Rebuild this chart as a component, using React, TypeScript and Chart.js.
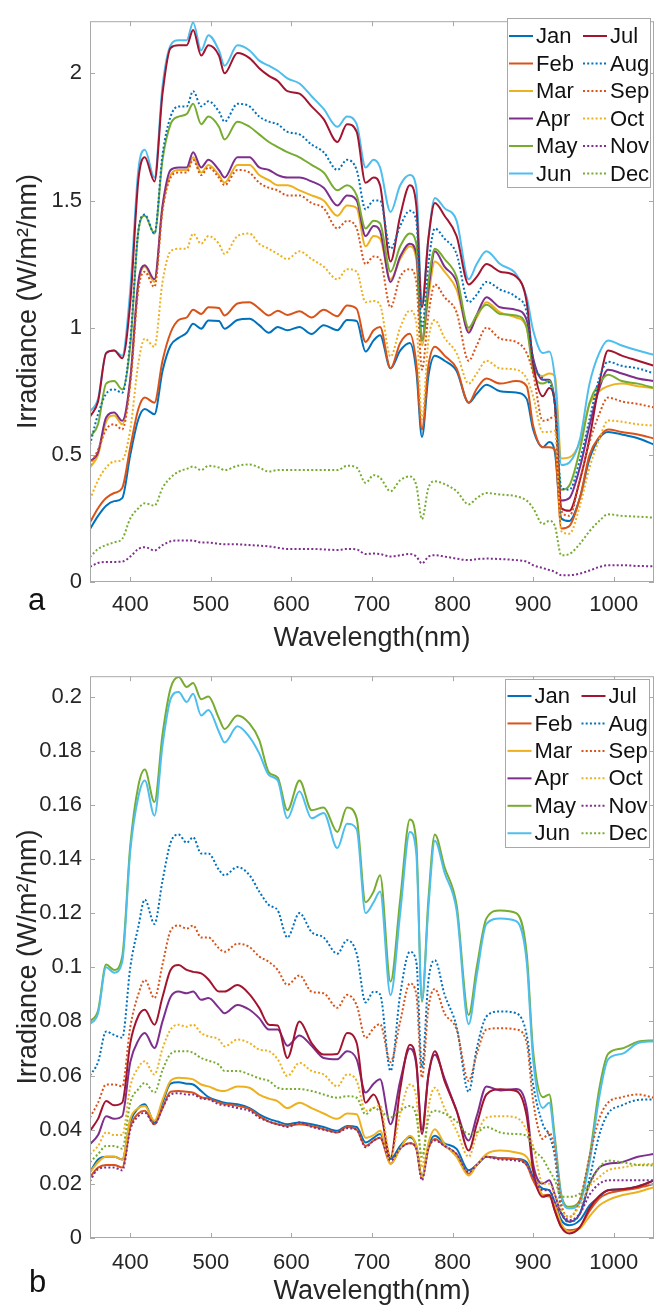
import React, { useEffect, useRef } from "react";
import { Chart, registerables } from "chart.js";

Chart.register(...registerables);

// ---------- data ----------
const WAVELENGTHS = [
  350, 360, 370, 380, 390, 400, 410, 418, 430, 440,
  450, 460, 470, 478, 488, 497, 510, 517, 533, 548,
  560, 572, 583, 595, 610, 625, 640, 657, 669, 681,
  692, 702, 710, 723, 735, 747, 755, 762, 770, 778,
  790, 805, 820, 830, 842, 859, 879, 892, 900, 912,
  920, 927, 935, 945, 958, 970, 982, 993, 1010, 1030,
  1050,
];

const MONTHS = ["Jan", "Feb", "Mar", "Apr", "May", "Jun", "Jul", "Aug", "Sep", "Oct", "Nov", "Dec"];

const X_TICKS = [400, 500, 600, 700, 800, 900, 1000];
const Y_TICKS_A = [0, 0.5, 1, 1.5, 2];
const Y_TICKS_B = [0, 0.02, 0.04, 0.06, 0.08, 0.1, 0.12, 0.14, 0.16, 0.18, 0.2];

// panel a
const aJan = [0.208, 0.26, 0.30, 0.318, 0.33, 0.50, 0.64, 0.68, 0.66, 0.83, 0.93, 0.96, 0.98, 1.015, 0.996, 1.028, 1.026, 0.996, 1.03, 1.035, 1.01, 0.98, 1.003, 0.99, 1.003, 0.975, 1.01, 0.99, 1.03, 1.026, 0.906, 0.95, 0.97, 0.84, 0.91, 0.94, 0.83, 0.57, 0.81, 0.89, 0.87, 0.83, 0.705, 0.74, 0.776, 0.75, 0.745, 0.72, 0.60, 0.53, 0.55, 0.51, 0.25, 0.24, 0.33, 0.485, 0.565, 0.59, 0.58, 0.565, 0.54];
const aFeb = [0.234, 0.29, 0.33, 0.35, 0.37, 0.53, 0.68, 0.725, 0.705, 0.87, 0.98, 1.03, 1.04, 1.07, 1.054, 1.08, 1.077, 1.048, 1.095, 1.10, 1.075, 1.048, 1.067, 1.05, 1.065, 1.04, 1.07, 1.045, 1.087, 1.074, 0.944, 0.99, 1.003, 0.84, 0.94, 0.976, 0.86, 0.60, 0.85, 0.925, 0.89, 0.84, 0.705, 0.76, 0.80, 0.78, 0.79, 0.77, 0.615, 0.53, 0.53, 0.52, 0.21, 0.22, 0.33, 0.50, 0.57, 0.60, 0.59, 0.58, 0.564];
const aMar = [0.45, 0.50, 0.63, 0.655, 0.62, 0.79, 1.17, 1.24, 1.18, 1.47, 1.60, 1.62, 1.62, 1.67, 1.61, 1.64, 1.60, 1.57, 1.64, 1.64, 1.60, 1.58, 1.56, 1.56, 1.54, 1.52, 1.50, 1.44, 1.48, 1.47, 1.32, 1.36, 1.35, 1.19, 1.27, 1.32, 1.27, 0.93, 1.12, 1.26, 1.22, 1.15, 0.99, 1.04, 1.10, 1.06, 1.04, 1.00, 0.85, 0.81, 0.82, 0.81, 0.486, 0.49, 0.55, 0.70, 0.75, 0.77, 0.78, 0.77, 0.763];
const aApr = [0.474, 0.51, 0.647, 0.666, 0.634, 0.80, 1.18, 1.245, 1.19, 1.48, 1.62, 1.63, 1.63, 1.69, 1.63, 1.66, 1.62, 1.59, 1.67, 1.67, 1.63, 1.62, 1.60, 1.59, 1.59, 1.575, 1.55, 1.48, 1.52, 1.50, 1.36, 1.40, 1.38, 1.18, 1.28, 1.33, 1.29, 0.95, 1.15, 1.30, 1.24, 1.18, 0.98, 1.05, 1.12, 1.08, 1.07, 1.03, 0.88, 0.795, 0.795, 0.70, 0.32, 0.33, 0.45, 0.615, 0.76, 0.835, 0.82, 0.80, 0.79];
const aMay = [0.57, 0.62, 0.78, 0.79, 0.757, 0.93, 1.38, 1.44, 1.37, 1.66, 1.80, 1.83, 1.84, 1.88, 1.80, 1.83, 1.79, 1.74, 1.81, 1.79, 1.76, 1.73, 1.71, 1.69, 1.67, 1.64, 1.61, 1.54, 1.56, 1.52, 1.39, 1.42, 1.41, 1.22, 1.32, 1.37, 1.33, 0.95, 1.18, 1.31, 1.27, 1.20, 1.00, 1.05, 1.09, 1.054, 1.048, 1.00, 0.83, 0.78, 0.79, 0.70, 0.363, 0.38, 0.52, 0.705, 0.78, 0.815, 0.79, 0.78, 0.763];
const aJun = [0.67, 0.72, 0.90, 0.91, 0.89, 1.15, 1.62, 1.70, 1.59, 1.95, 2.11, 2.13, 2.13, 2.20, 2.09, 2.15, 2.09, 2.03, 2.11, 2.09, 2.05, 2.03, 2.01, 1.98, 1.96, 1.91, 1.86, 1.79, 1.83, 1.80, 1.63, 1.66, 1.63, 1.455, 1.56, 1.60, 1.55, 1.10, 1.35, 1.51, 1.47, 1.42, 1.19, 1.25, 1.30, 1.25, 1.21, 1.12, 0.99, 0.90, 0.906, 0.80, 0.46, 0.47, 0.56, 0.78, 0.90, 0.95, 0.93, 0.91, 0.893];
const aJul = [0.65, 0.71, 0.90, 0.91, 0.88, 1.10, 1.58, 1.67, 1.575, 1.92, 2.10, 2.11, 2.11, 2.17, 2.07, 2.11, 2.07, 2.00, 2.08, 2.06, 2.02, 1.99, 1.97, 1.93, 1.92, 1.87, 1.82, 1.73, 1.80, 1.77, 1.57, 1.59, 1.56, 1.26, 1.44, 1.56, 1.48, 1.08, 1.35, 1.49, 1.44, 1.36, 1.17, 1.20, 1.25, 1.22, 1.20, 1.10, 0.86, 0.73, 0.763, 0.70, 0.29, 0.28, 0.40, 0.565, 0.78, 0.91, 0.89, 0.87, 0.85];
const aAug = [0.54, 0.66, 0.74, 0.757, 0.744, 0.95, 1.38, 1.445, 1.37, 1.68, 1.83, 1.87, 1.87, 1.93, 1.87, 1.89, 1.85, 1.81, 1.88, 1.87, 1.83, 1.81, 1.80, 1.77, 1.76, 1.72, 1.69, 1.62, 1.66, 1.62, 1.465, 1.50, 1.50, 1.31, 1.40, 1.46, 1.42, 1.00, 1.25, 1.39, 1.35, 1.29, 1.10, 1.13, 1.18, 1.15, 1.12, 1.06, 0.874, 0.80, 0.783, 0.70, 0.37, 0.363, 0.48, 0.64, 0.80, 0.866, 0.85, 0.84, 0.82];
const aSep = [0.46, 0.52, 0.60, 0.62, 0.60, 0.78, 1.15, 1.22, 1.16, 1.46, 1.59, 1.61, 1.61, 1.66, 1.60, 1.63, 1.59, 1.56, 1.62, 1.61, 1.57, 1.55, 1.54, 1.52, 1.52, 1.49, 1.47, 1.39, 1.42, 1.39, 1.25, 1.28, 1.27, 1.08, 1.20, 1.23, 1.18, 0.835, 1.05, 1.17, 1.12, 1.06, 0.87, 0.93, 1.00, 0.957, 0.944, 0.90, 0.82, 0.634, 0.64, 0.654, 0.28, 0.26, 0.40, 0.55, 0.66, 0.725, 0.71, 0.70, 0.686];
const aOct = [0.325, 0.40, 0.45, 0.474, 0.48, 0.60, 0.86, 0.957, 0.925, 1.18, 1.30, 1.31, 1.31, 1.37, 1.33, 1.36, 1.33, 1.29, 1.36, 1.37, 1.33, 1.31, 1.29, 1.27, 1.30, 1.27, 1.24, 1.19, 1.23, 1.22, 1.10, 1.105, 1.09, 0.886, 1.00, 1.067, 1.02, 0.64, 0.95, 1.03, 0.96, 0.90, 0.78, 0.82, 0.87, 0.84, 0.835, 0.80, 0.73, 0.59, 0.59, 0.595, 0.20, 0.19, 0.30, 0.45, 0.56, 0.635, 0.63, 0.62, 0.615];
const aNov = [0.06, 0.075, 0.079, 0.079, 0.08, 0.10, 0.13, 0.137, 0.124, 0.145, 0.16, 0.163, 0.163, 0.163, 0.155, 0.155, 0.15, 0.148, 0.148, 0.145, 0.143, 0.14, 0.135, 0.13, 0.13, 0.13, 0.128, 0.126, 0.13, 0.128, 0.11, 0.112, 0.11, 0.10, 0.105, 0.11, 0.10, 0.073, 0.10, 0.105, 0.10, 0.092, 0.086, 0.09, 0.092, 0.09, 0.086, 0.08, 0.066, 0.055, 0.047, 0.04, 0.027, 0.027, 0.033, 0.045, 0.059, 0.066, 0.066, 0.063, 0.062];
const aDec = [0.098, 0.13, 0.145, 0.156, 0.17, 0.25, 0.29, 0.31, 0.30, 0.37, 0.41, 0.434, 0.445, 0.454, 0.44, 0.457, 0.45, 0.44, 0.457, 0.462, 0.45, 0.434, 0.44, 0.44, 0.44, 0.44, 0.44, 0.44, 0.457, 0.45, 0.39, 0.42, 0.41, 0.357, 0.40, 0.415, 0.38, 0.247, 0.37, 0.396, 0.385, 0.357, 0.305, 0.33, 0.35, 0.344, 0.337, 0.32, 0.29, 0.228, 0.24, 0.22, 0.105, 0.11, 0.15, 0.20, 0.24, 0.266, 0.26, 0.257, 0.253];

// panel b
const bJan = [0.0243, 0.029, 0.030, 0.030, 0.029, 0.043, 0.048, 0.0494, 0.0427, 0.050, 0.057, 0.0575, 0.057, 0.0567, 0.0543, 0.052, 0.0506, 0.050, 0.0494, 0.048, 0.0457, 0.044, 0.043, 0.042, 0.0427, 0.042, 0.041, 0.0396, 0.0414, 0.041, 0.0353, 0.037, 0.0384, 0.0292, 0.034, 0.0372, 0.034, 0.0225, 0.034, 0.0378, 0.035, 0.0329, 0.025, 0.027, 0.030, 0.0295, 0.0292, 0.028, 0.0225, 0.0182, 0.0176, 0.013, 0.0066, 0.0047, 0.0066, 0.012, 0.0152, 0.0176, 0.018, 0.019, 0.0213];
const bFeb = [0.0225, 0.026, 0.027, 0.027, 0.026, 0.041, 0.046, 0.047, 0.042, 0.048, 0.054, 0.0543, 0.054, 0.0537, 0.052, 0.0515, 0.050, 0.0495, 0.0488, 0.0476, 0.045, 0.043, 0.042, 0.0414, 0.042, 0.0414, 0.0402, 0.039, 0.041, 0.040, 0.034, 0.036, 0.037, 0.0274, 0.033, 0.035, 0.033, 0.022, 0.033, 0.0366, 0.034, 0.031, 0.0237, 0.027, 0.030, 0.0295, 0.0292, 0.027, 0.0213, 0.0158, 0.016, 0.010, 0.0041, 0.0029, 0.004, 0.010, 0.0146, 0.0165, 0.0175, 0.0185, 0.020];
const bMar = [0.0243, 0.028, 0.030, 0.030, 0.029, 0.044, 0.048, 0.0488, 0.0433, 0.051, 0.058, 0.0592, 0.059, 0.0586, 0.0567, 0.056, 0.0545, 0.0543, 0.056, 0.0555, 0.053, 0.0515, 0.0505, 0.048, 0.050, 0.048, 0.046, 0.044, 0.046, 0.0457, 0.037, 0.038, 0.0396, 0.0274, 0.033, 0.0378, 0.034, 0.0225, 0.035, 0.0402, 0.0347, 0.030, 0.0231, 0.027, 0.031, 0.0323, 0.0316, 0.030, 0.025, 0.0158, 0.0152, 0.012, 0.0053, 0.0023, 0.0035, 0.008, 0.012, 0.014, 0.0158, 0.017, 0.0188];
const bApr = [0.0347, 0.038, 0.045, 0.044, 0.045, 0.065, 0.073, 0.0757, 0.0702, 0.080, 0.089, 0.091, 0.0904, 0.091, 0.088, 0.0886, 0.085, 0.083, 0.0861, 0.0843, 0.0812, 0.077, 0.077, 0.071, 0.0748, 0.071, 0.0665, 0.066, 0.069, 0.066, 0.0537, 0.057, 0.0586, 0.042, 0.058, 0.070, 0.064, 0.040, 0.060, 0.0677, 0.059, 0.047, 0.036, 0.045, 0.056, 0.0545, 0.055, 0.048, 0.0274, 0.0201, 0.0213, 0.016, 0.009, 0.006, 0.009, 0.020, 0.026, 0.0274, 0.028, 0.030, 0.031];
const bMay = [0.080, 0.084, 0.101, 0.099, 0.104, 0.145, 0.167, 0.173, 0.161, 0.186, 0.203, 0.2072, 0.2035, 0.205, 0.199, 0.200, 0.192, 0.188, 0.193, 0.190, 0.184, 0.172, 0.170, 0.158, 0.169, 0.158, 0.159, 0.150, 0.159, 0.155, 0.124, 0.128, 0.134, 0.0947, 0.125, 0.1546, 0.146, 0.0873, 0.125, 0.149, 0.137, 0.123, 0.0824, 0.100, 0.118, 0.121, 0.120, 0.105, 0.069, 0.052, 0.053, 0.037, 0.016, 0.0115, 0.014, 0.030, 0.055, 0.068, 0.070, 0.0725, 0.073];
const bJun = [0.079, 0.083, 0.100, 0.098, 0.102, 0.143, 0.163, 0.169, 0.156, 0.182, 0.199, 0.2017, 0.198, 0.201, 0.193, 0.195, 0.187, 0.183, 0.189, 0.185, 0.179, 0.171, 0.169, 0.155, 0.165, 0.155, 0.157, 0.144, 0.153, 0.151, 0.120, 0.124, 0.128, 0.0897, 0.120, 0.150, 0.142, 0.088, 0.122, 0.1467, 0.135, 0.121, 0.079, 0.097, 0.116, 0.118, 0.117, 0.102, 0.066, 0.048, 0.050, 0.035, 0.015, 0.0109, 0.013, 0.028, 0.052, 0.066, 0.068, 0.072, 0.0727];
const bJul = [0.0396, 0.044, 0.0506, 0.049, 0.050, 0.072, 0.082, 0.0843, 0.0788, 0.089, 0.099, 0.1008, 0.099, 0.0983, 0.0977, 0.0955, 0.091, 0.091, 0.0934, 0.090, 0.085, 0.0788, 0.0785, 0.0665, 0.080, 0.072, 0.0678, 0.068, 0.0757, 0.072, 0.050, 0.053, 0.048, 0.0298, 0.055, 0.0714, 0.065, 0.0384, 0.060, 0.069, 0.058, 0.047, 0.0323, 0.042, 0.053, 0.0549, 0.0543, 0.045, 0.025, 0.0152, 0.0158, 0.010, 0.004, 0.0017, 0.004, 0.011, 0.0155, 0.0176, 0.018, 0.019, 0.0213];
const bAug = [0.060, 0.065, 0.0763, 0.075, 0.074, 0.100, 0.115, 0.125, 0.116, 0.132, 0.146, 0.149, 0.146, 0.148, 0.142, 0.142, 0.136, 0.134, 0.137, 0.134, 0.128, 0.123, 0.121, 0.111, 0.120, 0.113, 0.111, 0.105, 0.110, 0.105, 0.087, 0.091, 0.090, 0.0617, 0.090, 0.1057, 0.102, 0.063, 0.095, 0.1026, 0.090, 0.078, 0.054, 0.070, 0.0818, 0.0837, 0.083, 0.075, 0.0567, 0.042, 0.038, 0.030, 0.010, 0.006, 0.009, 0.022, 0.038, 0.046, 0.049, 0.051, 0.0512];
const bSep = [0.0445, 0.050, 0.0567, 0.0567, 0.056, 0.078, 0.090, 0.0953, 0.0886, 0.101, 0.1135, 0.1154, 0.1143, 0.1154, 0.111, 0.111, 0.107, 0.1057, 0.1087, 0.1075, 0.104, 0.102, 0.099, 0.0935, 0.097, 0.091, 0.0904, 0.085, 0.0898, 0.086, 0.0739, 0.0775, 0.079, 0.065, 0.080, 0.094, 0.090, 0.0592, 0.085, 0.092, 0.083, 0.077, 0.058, 0.068, 0.077, 0.0775, 0.077, 0.072, 0.0506, 0.0366, 0.039, 0.032, 0.0127, 0.0078, 0.014, 0.030, 0.044, 0.050, 0.052, 0.053, 0.0518];
const bOct = [0.031, 0.034, 0.039, 0.038, 0.038, 0.056, 0.063, 0.0653, 0.0604, 0.070, 0.077, 0.0788, 0.078, 0.0788, 0.0757, 0.0745, 0.0733, 0.0708, 0.0733, 0.072, 0.0696, 0.069, 0.066, 0.0598, 0.0647, 0.0617, 0.0604, 0.056, 0.0604, 0.058, 0.047, 0.048, 0.049, 0.030, 0.046, 0.0567, 0.052, 0.026, 0.048, 0.0555, 0.048, 0.0396, 0.030, 0.038, 0.0445, 0.045, 0.0445, 0.040, 0.034, 0.0201, 0.020, 0.016, 0.0103, 0.0078, 0.012, 0.019, 0.0225, 0.025, 0.026, 0.027, 0.0274];
const bNov = [0.021, 0.0255, 0.026, 0.026, 0.025, 0.040, 0.045, 0.0463, 0.042, 0.048, 0.053, 0.0535, 0.053, 0.053, 0.0515, 0.0512, 0.0494, 0.049, 0.048, 0.047, 0.0445, 0.043, 0.042, 0.041, 0.0427, 0.041, 0.040, 0.039, 0.0405, 0.040, 0.0335, 0.036, 0.037, 0.0286, 0.033, 0.035, 0.033, 0.0213, 0.033, 0.036, 0.034, 0.031, 0.0243, 0.027, 0.030, 0.029, 0.0286, 0.027, 0.0225, 0.0176, 0.0176, 0.013, 0.009, 0.0066, 0.009, 0.016, 0.020, 0.0213, 0.0213, 0.0213, 0.0213];
const bDec = [0.028, 0.031, 0.034, 0.034, 0.033, 0.050, 0.055, 0.0573, 0.0537, 0.062, 0.068, 0.069, 0.069, 0.0684, 0.0665, 0.0655, 0.064, 0.0617, 0.0617, 0.0604, 0.059, 0.058, 0.0555, 0.055, 0.055, 0.0543, 0.053, 0.0518, 0.0524, 0.0518, 0.0457, 0.048, 0.047, 0.0445, 0.047, 0.0488, 0.045, 0.030, 0.044, 0.047, 0.046, 0.043, 0.0384, 0.039, 0.041, 0.039, 0.0384, 0.0378, 0.0329, 0.0292, 0.025, 0.0213, 0.0152, 0.0152, 0.0164, 0.0201, 0.026, 0.0286, 0.028, 0.027, 0.0268];

const SERIES_A = [aJan, aFeb, aMar, aApr, aMay, aJun, aJul, aAug, aSep, aOct, aNov, aDec];
const SERIES_B = [bJan, bFeb, bMar, bApr, bMay, bJun, bJul, bAug, bSep, bOct, bNov, bDec];

// ---------- styles ----------
const MONTH_COLORS = [
  "#0072BD", "#D95319", "#EDB120", "#7E2F8E", "#77AC30", "#4DBEEE",
  "#A2142F", "#0072BD", "#D95319", "#EDB120", "#7E2F8E", "#77AC30",
];
const DOTTED = [false, false, false, false, false, false, false, true, true, true, true, true];
const FONT = "'Liberation Sans', Arial, Helvetica, sans-serif";
const TEXT_COLOR = "#262626";
const AXIS_COLOR = "#a8a8a8";
const DOT_DASH = [2, 2.2];

const framePlugin = {
  id: "matlabFrame",
  afterDatasetsDraw(chart: any, _args: any, opts: any) {
    const { ctx, chartArea } = chart;
    const { left, right, top, bottom } = chartArea;
    const xs = chart.scales.x;
    const ys = chart.scales.y;
    ctx.save();
    ctx.strokeStyle = AXIS_COLOR;
    ctx.lineWidth = 1;
    ctx.setLineDash([]);
    ctx.strokeRect(left + 0.5, top + 0.5, right - left - 1, bottom - top - 1);
    const tl = 5;
    ctx.beginPath();
    xs.ticks.forEach((t: any) => {
      const px = Math.round(xs.getPixelForValue(t.value)) + 0.5;
      ctx.moveTo(px, bottom);
      ctx.lineTo(px, bottom - tl);
      ctx.moveTo(px, top);
      ctx.lineTo(px, top + tl);
    });
    ys.ticks.forEach((t: any) => {
      const py = Math.round(ys.getPixelForValue(t.value)) + 0.5;
      ctx.moveTo(left, py);
      ctx.lineTo(left + tl, py);
      ctx.moveTo(right, py);
      ctx.lineTo(right - tl, py);
    });
    ctx.stroke();

    const L = opts.legend;
    ctx.fillStyle = "#ffffff";
    ctx.fillRect(L.x0, L.y0, L.x1 - L.x0, L.y1 - L.y0);
    ctx.strokeStyle = AXIS_COLOR;
    ctx.lineWidth = 1;
    ctx.strokeRect(L.x0 + 0.5, L.y0 + 0.5, L.x1 - L.x0 - 1, L.y1 - L.y0 - 1);
    ctx.font = `22px ${FONT}`;
    ctx.textBaseline = "middle";
    ctx.textAlign = "left";
    chart.data.datasets.forEach((ds: any, i: number) => {
      const col = i < 6 ? 0 : 1;
      const row = i % 6;
      const y = L.row0 + row * L.rowStep;
      const sx = L.cols[col];
      ctx.strokeStyle = ds.borderColor;
      ctx.lineWidth = 2;
      ctx.setLineDash(ds.borderDash || []);
      ctx.beginPath();
      ctx.moveTo(sx, y);
      ctx.lineTo(sx + 24, y);
      ctx.stroke();
      ctx.setLineDash([]);
      ctx.fillStyle = "#111";
      ctx.fillText(ds.label, sx + 27, y + 1);
    });

    ctx.font = `31px ${FONT}`;
    ctx.fillStyle = "#111";
    ctx.textBaseline = "alphabetic";
    ctx.fillText(opts.letter, opts.letterX, opts.letterY);
    ctx.restore();
  },
};

type PanelCfg = {
  height: number;
  top: number;
  xAxisHeight: number;
  series: number[][];
  yMax: number;
  yTicks: number[];
  xTickPad: number;
  xTitlePad: number;
  legend: any;
  letter: string;
  letterX: number;
  letterY: number;
};

const fmt = (v: number) => String(Number(v.toFixed(3)));

function Panel({ cfg }: { cfg: PanelCfg }) {
  const ref = useRef<HTMLCanvasElement | null>(null);
  useEffect(() => {
    const canvas = ref.current;
    if (!canvas) return;
    const datasets = MONTHS.map((m, i) => ({
      label: m,
      data: WAVELENGTHS.map((x, j) => ({ x, y: cfg.series[i][j] })),
      borderColor: MONTH_COLORS[i],
      backgroundColor: MONTH_COLORS[i],
      borderWidth: 2,
      borderDash: DOTTED[i] ? DOT_DASH : [],
      pointRadius: 0,
      cubicInterpolationMode: "monotone" as const,
      fill: false,
      order: 11 - i,
    }));
    const chart = new Chart(canvas, {
      type: "line",
      data: { datasets },
      options: {
        responsive: false,
        animation: false,
        devicePixelRatio: 1,
        layout: { padding: { left: 0, right: 1, top: cfg.top, bottom: 0 } },
        plugins: {
          legend: { display: false },
          tooltip: { enabled: false },
          matlabFrame: {
            legend: cfg.legend,
            letter: cfg.letter,
            letterX: cfg.letterX,
            letterY: cfg.letterY,
          },
        } as any,
        scales: {
          x: {
            type: "linear",
            min: 350,
            max: 1050,
            afterBuildTicks: (s: any) => {
              s.ticks = X_TICKS.map((v) => ({ value: v }));
            },
            afterFit: (s: any) => {
              s.height = cfg.xAxisHeight;
            },
            grid: { display: false, drawTicks: false },
            border: { display: false },
            ticks: {
              font: { family: FONT, size: 22 },
              color: TEXT_COLOR,
              padding: cfg.xTickPad,
              maxRotation: 0,
              autoSkip: false,
              callback: (v: any) => String(v),
            },
            title: {
              display: true,
              text: "Wavelength(nm)",
              font: { family: FONT, size: 27 },
              color: TEXT_COLOR,
              padding: { top: 0, bottom: cfg.xTitlePad },
            },
          },
          y: {
            type: "linear",
            min: 0,
            max: cfg.yMax,
            afterBuildTicks: (s: any) => {
              s.ticks = cfg.yTicks.map((v) => ({ value: v }));
            },
            afterFit: (s: any) => {
              s.width = 90;
            },
            grid: { display: false, drawTicks: false },
            border: { display: false },
            ticks: {
              font: { family: FONT, size: 22 },
              color: TEXT_COLOR,
              padding: 8,
              autoSkip: false,
              callback: (v: any) => fmt(Number(v)),
            },
            title: {
              display: true,
              text: "Irradiance (W/m²/nm)",
              font: { family: FONT, size: 27 },
              color: TEXT_COLOR,
              padding: { top: 12, bottom: 0 },
            },
          },
        },
      },
      plugins: [framePlugin],
    });
    return () => chart.destroy();
  }, []);
  return (
    <canvas
      ref={ref}
      width={655}
      height={cfg.height}
      style={{ display: "block", width: 655, height: cfg.height }}
    />
  );
}

const PANEL_A: PanelCfg = {
  height: 655,
  top: 14,
  xAxisHeight: 73,
  series: SERIES_A,
  yMax: 2.205,
  yTicks: Y_TICKS_A,
  xTickPad: 10,
  xTitlePad: 0,
  legend: { x0: 507, y0: 18, x1: 651, y1: 188, row0: 36, rowStep: 27.5, cols: [509, 583] },
  letter: "a",
  letterX: 28,
  letterY: 610,
};

const PANEL_B: PanelCfg = {
  height: 654,
  top: 18,
  xAxisHeight: 71,
  series: SERIES_B,
  yMax: 0.2075,
  yTicks: Y_TICKS_B,
  xTickPad: 12,
  xTitlePad: 1,
  legend: { x0: 505, y0: 24, x1: 650, y1: 193, row0: 41, rowStep: 27.45, cols: [507.5, 581.5] },
  letter: "b",
  letterX: 29,
  letterY: 637,
};

export default function App() {
  return (
    <div style={{ position: "absolute", left: 0, top: 0, width: 655, height: 1309, background: "#fff" }}>
      <Panel cfg={PANEL_A} />
      <Panel cfg={PANEL_B} />
    </div>
  );
}
